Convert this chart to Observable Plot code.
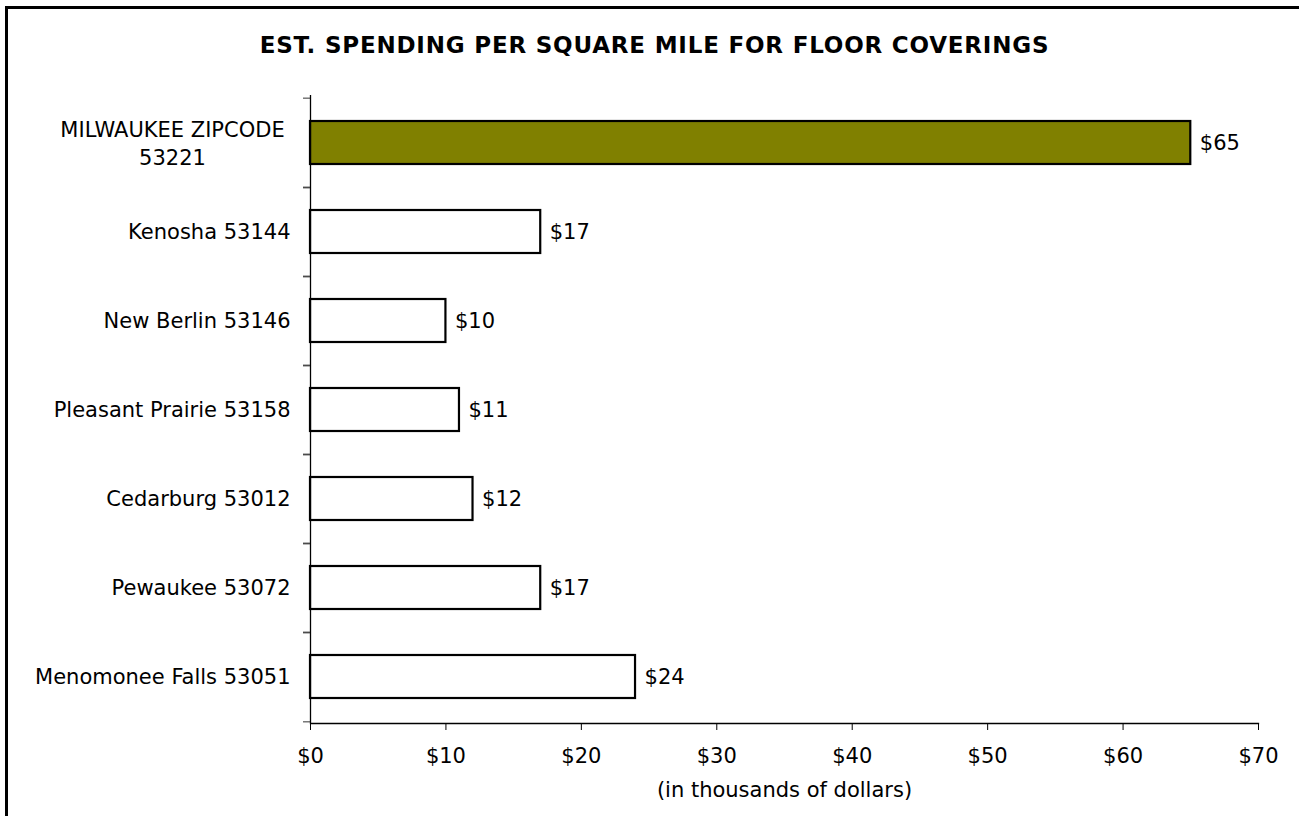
<!DOCTYPE html>
<html>
<head>
<meta charset="utf-8">
<script src="https://cdn.jsdelivr.net/npm/d3@7"></script>
<script src="https://cdn.jsdelivr.net/npm/@observablehq/plot@0.6"></script>
<style>
  html, body { margin: 0; padding: 0; background: #fff; overflow: hidden; width: 1299px; height: 816px; }
  #frame { position: absolute; left: 5px; top: 6px; width: 1400px; height: 900px; border: 3px solid #000; box-sizing: border-box; pointer-events: none; z-index: 2; }
  #title { position: absolute; left: 0; top: 0; box-sizing: border-box; height: 80px; width: 1299px; padding-top: 34px; padding-left: 10px; text-align: center;
    font-family: "DejaVu Sans", Verdana, sans-serif; font-weight: bold; font-size: 23px; line-height: 23px; letter-spacing: 0.8px; color: #000; }
  #chart { position: absolute; left: 0; top: 80px; }
  #chart svg { display: block; }
</style>
</head>
<body>
<div id="frame"></div>
<div id="title">EST. SPENDING PER SQUARE MILE FOR FLOOR COVERINGS</div>
<div id="chart"></div>
<script>
// ---- data ----
const categories = [
  "MILWAUKEE ZIPCODE\n53221",
  "Kenosha 53144",
  "New Berlin 53146",
  "Pleasant Prairie 53158",
  "Cedarburg 53012",
  "Pewaukee 53072",
  "Menomonee Falls 53051"
];
const values = [65, 17, 10, 11, 12, 17, 24];
const highlighted = ["MILWAUKEE ZIPCODE\n53221"];
const xTicks = [0, 10, 20, 30, 40, 50, 60, 70];
const xLabel = "(in thousands of dollars)";

const rows = categories.map((c, i) => ({category: c, value: values[i], hi: highlighted.includes(c)}));

// ---- layout ----
const W = 1299, H = 736;
const mt = 15, mb = 93, ml = 310, mr = 41;
const step = (H - mt - mb) / categories.length;
const font = "DejaVu Sans, Verdana, sans-serif";

const chart = Plot.plot({
  width: W,
  height: H,
  marginTop: mt,
  marginBottom: mb,
  marginLeft: ml,
  marginRight: mr,
  style: {fontFamily: font, fontSize: "21px", color: "#000", background: "#fff", overflow: "visible"},
  x: {domain: [0, 70]},
  y: {domain: categories, paddingInner: 0.52, paddingOuter: 0.26},
  marks: [
    Plot.barX(rows, {
      x: "value", y: "category",
      fill: d => d.hi ? "#808000" : "#ffffff",
      stroke: "#000", strokeWidth: 2.2
    }),
    Plot.ruleX([0], {stroke: "#000", strokeWidth: 1.3}),
    Plot.frame({anchor: "bottom", stroke: "#000", strokeWidth: 1.3}),
    Plot.axisX({
      ticks: xTicks, tickFormat: d => "$" + d, tickSize: 7, tickPadding: 18,
      label: xLabel, labelAnchor: "center", labelArrow: "none", labelOffset: 73,
      stroke: "#000", fill: "#000", fontSize: 21
    }),
    Plot.axisY({ticks: categories, tickSize: 7, tickFormat: () => "", label: null, dy: -step / 2, stroke: "#333"}),
    Plot.axisY({ticks: categories, tickSize: 7, tickFormat: () => "", label: null, dy: step / 2, stroke: "#333"}),
    Plot.text(rows.filter(d => !d.hi), {
      y: "category", text: "category", frameAnchor: "left",
      dx: -20, textAnchor: "end", fill: "#000", fontSize: 21
    }),
    Plot.text(rows.filter(d => d.hi), {
      y: "category", text: "category", frameAnchor: "left",
      dx: -138, dy: -1, textAnchor: "middle", lineHeight: 1.35, fill: "#000", fontSize: 21
    }),
    Plot.text(rows, {
      x: "value", y: "category", text: d => "$" + d.value,
      dx: 9, textAnchor: "start", fill: "#000", fontSize: 21
    })
  ]
});
document.getElementById("chart").appendChild(chart);
</script>
</body>
</html>
